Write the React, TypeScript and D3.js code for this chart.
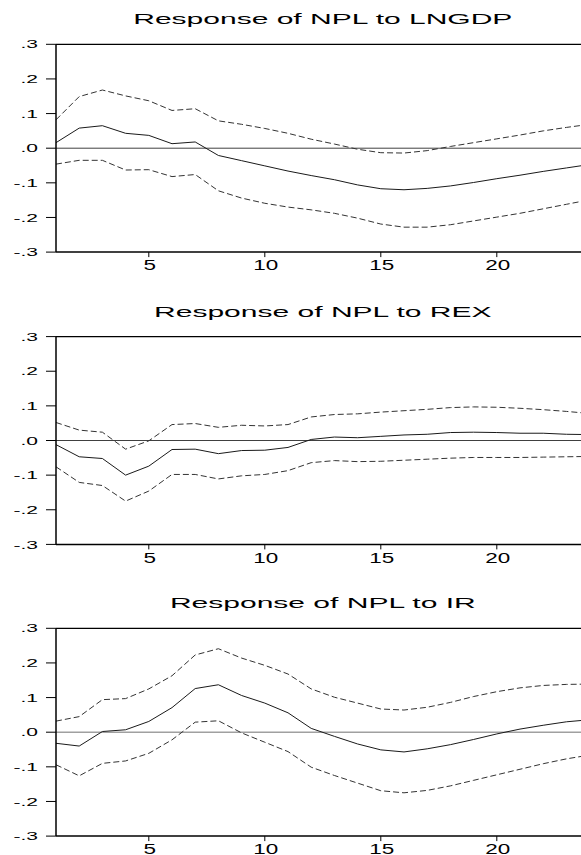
import React from "react";
import * as d3 from "d3";

// horizons 1..24
const steps = [
  1, 2, 3, 4, 5, 6, 7, 8, 9, 10, 11, 12, 13, 14, 15, 16, 17, 18, 19, 20, 21,
  22, 23, 24,
];

// NPL to LNGDP
const lngdpResp = [
  0.016, 0.058, 0.065, 0.043, 0.037, 0.013, 0.018, -0.021, -0.036, -0.051,
  -0.066, -0.079, -0.091, -0.106, -0.117, -0.12, -0.116, -0.109, -0.099,
  -0.088, -0.078, -0.067, -0.057, -0.047,
];
const lngdpUpper = [
  0.082, 0.149, 0.168, 0.151, 0.137, 0.109, 0.114, 0.079, 0.069, 0.057, 0.043,
  0.026, 0.012, -0.003, -0.013, -0.014, -0.007, 0.005, 0.016, 0.027, 0.038,
  0.05, 0.06, 0.069,
];
const lngdpLower = [
  -0.046, -0.035, -0.035, -0.063, -0.062, -0.082, -0.076, -0.123, -0.144,
  -0.159, -0.17, -0.178, -0.188, -0.202, -0.219, -0.228, -0.228, -0.221,
  -0.21, -0.199, -0.188, -0.175, -0.162, -0.149,
];

// NPL to REX
const rexResp = [
  -0.012, -0.047, -0.052, -0.1, -0.074, -0.026, -0.025, -0.038, -0.029,
  -0.028, -0.02, 0.003, 0.01, 0.008, 0.012, 0.016, 0.018, 0.023, 0.024, 0.023,
  0.021, 0.021, 0.018, 0.017,
];
const rexUpper = [
  0.052, 0.03, 0.024, -0.025, -0.001, 0.046, 0.049, 0.038, 0.044, 0.042,
  0.046, 0.068, 0.075, 0.077, 0.082, 0.086, 0.09, 0.095, 0.097, 0.096, 0.093,
  0.089, 0.084, 0.078,
];
const rexLower = [
  -0.076, -0.121, -0.13, -0.175, -0.146, -0.098, -0.098, -0.111, -0.102,
  -0.098, -0.087, -0.064, -0.058, -0.061, -0.06, -0.057, -0.054, -0.051,
  -0.049, -0.049, -0.049, -0.048, -0.047, -0.046,
];

// NPL to IR
const irResp = [
  -0.032, -0.04, 0.002, 0.007, 0.031, 0.071, 0.126, 0.137, 0.106, 0.084,
  0.056, 0.011, -0.012, -0.034, -0.051, -0.057, -0.048, -0.036, -0.021,
  -0.005, 0.009, 0.02, 0.03, 0.036,
];
const irUpper = [
  0.032, 0.045, 0.094, 0.097, 0.125, 0.163, 0.223, 0.241, 0.214, 0.193,
  0.168, 0.125, 0.101, 0.084, 0.067, 0.064, 0.072, 0.086, 0.103, 0.117, 0.128,
  0.135, 0.138, 0.139,
];
const irLower = [
  -0.094, -0.126, -0.09, -0.083, -0.061, -0.022, 0.029, 0.033, -0.002,
  -0.029, -0.056, -0.101, -0.125, -0.147, -0.169, -0.175, -0.168, -0.155,
  -0.139, -0.123, -0.107, -0.091, -0.077, -0.066,
];

const titles = [
  "Response of NPL to LNGDP",
  "Response of NPL to REX",
  "Response of NPL to IR",
];
const xTickValues = [5, 10, 15, 20];
const yTickValues = [0.3, 0.2, 0.1, 0, -0.1, -0.2, -0.3];
const yTickLabels = [".3", ".2", ".1", ".0", "-.1", "-.2", "-.3"];

const panels = [
  { title: titles[0], resp: lngdpResp, upper: lngdpUpper, lower: lngdpLower },
  { title: titles[1], resp: rexResp, upper: rexUpper, lower: rexLower },
  { title: titles[2], resp: irResp, upper: irUpper, lower: irLower },
];

const font = "'Liberation Sans', Arial, sans-serif";

function Panel({ p, idx, top }) {
  const left = 56,
    right = 589.6,
    h = 207.8;
  const bottom = top + h;

  const xScale = d3.scaleLinear().domain([1, 24]).range([left, right]);
  const yScale = d3.scaleLinear().domain([-0.3, 0.3]).range([bottom, top]);

  const line = d3
    .line()
    .x((d, i) => xScale(steps[i]))
    .y((d) => yScale(d));

  const zeroColor = idx === 2 ? "#a0a0a0" : "#404040";
  const zeroWidth = idx === 2 ? 1.6 : 1;

  return (
    <g>
      {/* タイトル */}
      <text
        transform={`translate(${(left + right) / 2},${top - 20}) scale(2.07,1)`}
        textAnchor="middle"
        fontSize="14.5"
        fontFamily={font}
        fill="#000"
      >
        {p.title}
      </text>

      {/* 0 line */}
      <line
        x1={left}
        x2={right}
        y1={yScale(0)}
        y2={yScale(0)}
        stroke={zeroColor}
        strokeWidth={zeroWidth}
      />

      {/* bands */}
      <path
        d={line(p.upper)}
        fill="none"
        stroke="#333"
        strokeWidth="1"
        strokeDasharray="6,3"
      />
      <path
        d={line(p.lower)}
        fill="none"
        stroke="#333"
        strokeWidth="1"
        strokeDasharray="6,3"
      />
      <path d={line(p.resp)} fill="none" stroke="#1a1a1a" strokeWidth="1" />

      {/* frame */}
      <line x1={left} x2={right} y1={top} y2={top} stroke="#000" strokeWidth="1.3" />
      <line x1={left} x2={right} y1={bottom} y2={bottom} stroke="#000" strokeWidth="1.5" />
      <line x1={left} x2={left} y1={top} y2={bottom} stroke="#000" strokeWidth="1.5" />

      {/* y軸目盛 */}
      {yTickValues.map((v, i) => (
        <g key={v}>
          <line
            x1={left - 10}
            x2={left}
            y1={yScale(v)}
            y2={yScale(v)}
            stroke="#000"
            strokeWidth="1"
          />
          <text
            transform={`translate(38,${yScale(v) + 0.5}) scale(2.1,1)`}
            textAnchor="end"
            dy="0.36em"
            fontSize="10"
            fontFamily={font}
            fill="#000"
          >
            {yTickLabels[i]}
          </text>
        </g>
      ))}

      {/* x軸目盛 */}
      {xTickValues.map((v) => (
        <g key={v}>
          <line
            x1={xScale(v)}
            x2={xScale(v)}
            y1={bottom}
            y2={bottom + 5}
            stroke="#000"
            strokeWidth="1"
          />
          <text
            transform={`translate(${xScale(v) + 1},${bottom + 18.2}) scale(1.55,1)`}
            textAnchor="middle"
            fontSize="14.5"
            fontFamily={font}
            fill="#000"
          >
            {v}
          </text>
        </g>
      ))}
    </g>
  );
}

export default function App() {
  const width = 581,
    height = 855;
  const tops = [44.3, 336.6, 628.3];

  return (
    <svg
      width={width}
      height={height}
      style={{ position: "absolute", left: 0, top: 0, background: "#fff" }}
    >
      <rect x={0} y={0} width={width} height={height} fill="#fff" />
      {panels.map((p, i) => (
        <Panel key={i} p={p} idx={i} top={tops[i]} />
      ))}
    </svg>
  );
}
